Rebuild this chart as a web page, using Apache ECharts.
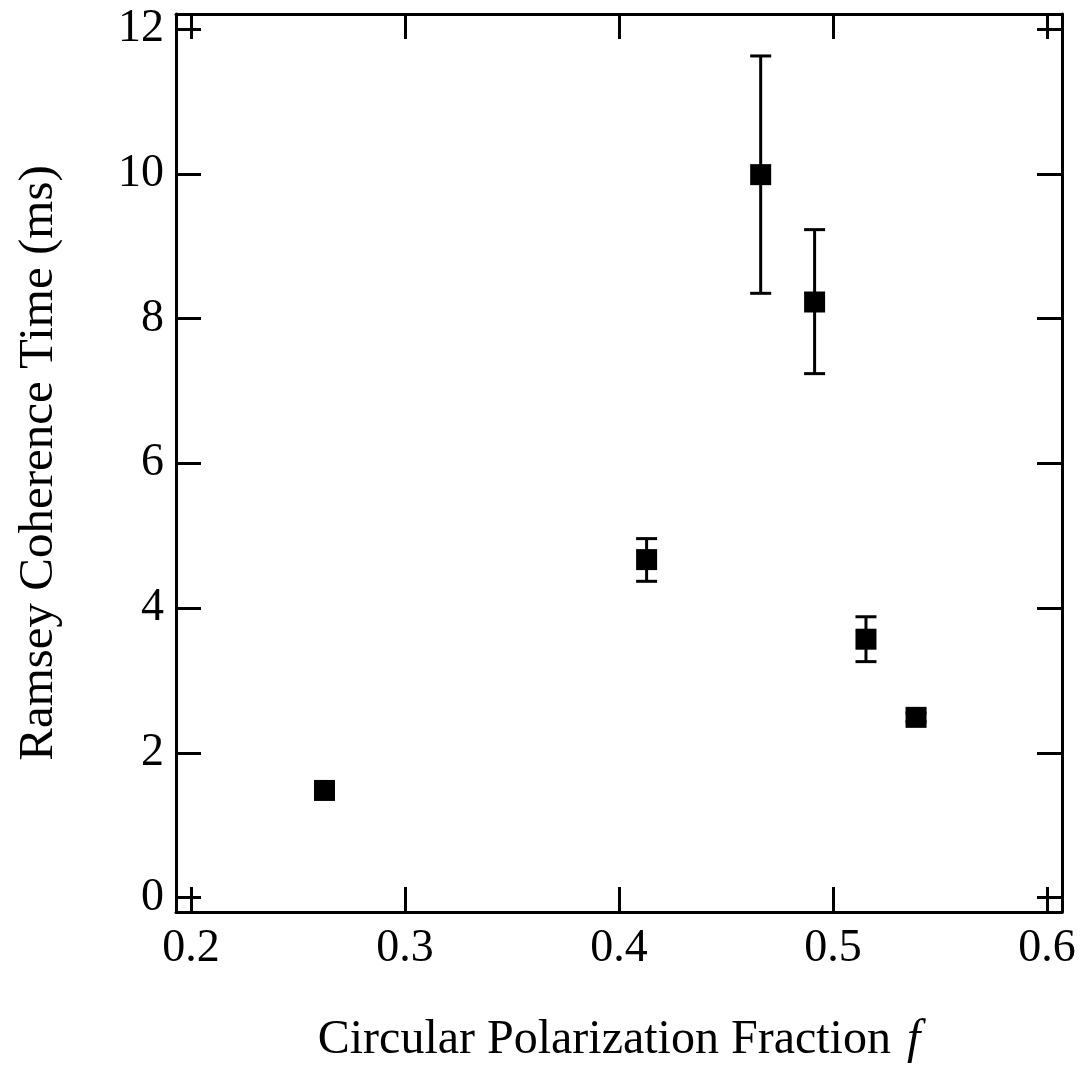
<!DOCTYPE html>
<html>
<head>
<meta charset="utf-8">
<script src="https://cdn.jsdelivr.net/npm/echarts@6/dist/echarts.min.js"></script>
<style>
	html, body { margin: 0; padding: 0; background: #fff; }
	#chart { width: 1083px; height: 1069px; }
</style>
</head>
<body>
<div id="chart"></div>
<script>
// values
var fraction = [0.2624, 0.4129, 0.4662, 0.4914, 0.5154, 0.5388];
var coherence = [1.48, 4.67, 9.99, 8.23, 3.57, 2.49];
var errLow = [1.42, 4.37, 8.35, 7.24, 3.26, 2.43];
var errHigh = [1.54, 4.96, 11.63, 9.23, 3.88, 2.55];
var xTicks = [0.2, 0.3, 0.4, 0.5, 0.6];
var yTicks = [0, 2, 4, 6, 8, 10, 12];

var font = 'Liberation Serif';

var points = [];
var bars = [];
for(var i=0; i<fraction.length; i++){
	points.push([fraction[i], coherence[i]]);
	bars.push([fraction[i], errLow[i], errHigh[i]]);
}

var chart = echarts.init(document.getElementById('chart'));

function makeX(pos, showLabels){
	return {
		type: 'value',
		position: pos,
		min: 0.193,
		max: 0.607,
		splitLine: { show: false },
		axisLine: { onZero: false, lineStyle: { color: '#000', width: 3 } },
		axisTick: { inside: true, length: 25, customValues: xTicks, lineStyle: { color: '#000', width: 3 } },
		axisLabel: {
			show: showLabels, customValues: xTicks, margin: 14,
			color: '#000', fontFamily: font, fontSize: 46,
			formatter: function(v){ return v.toFixed(1); }
		}
	};
}

function makeY(pos, showLabels){
	return {
		type: 'value',
		position: pos,
		min: -0.2,
		max: 12.21,
		splitLine: { show: false },
		axisLine: { onZero: false, lineStyle: { color: '#000', width: 3 } },
		axisTick: { inside: true, length: 25, customValues: yTicks, lineStyle: { color: '#000', width: 3 } },
		axisLabel: {
			show: showLabels, customValues: yTicks, margin: 12,
			color: '#000', fontFamily: font, fontSize: 46
		}
	};
}

var xBottom = makeX('bottom', true);
xBottom.name = 'Circular Polarization Fraction {i|f}';
xBottom.nameLocation = 'middle';
xBottom.nameGap = 104;
xBottom.nameTextStyle = {
	color: '#000', fontFamily: font, fontSize: 48,
	rich: { i: { fontFamily: font, fontSize: 48, fontStyle: 'italic', color: '#000', padding: [0, 0, 0, 4] } }
};

var yLeft = makeY('left', true);
yLeft.name = 'Ramsey Coherence Time (ms)';
yLeft.nameLocation = 'middle';
yLeft.nameGap = 112;
yLeft.nameTextStyle = { color: '#000', fontFamily: font, fontSize: 49 };

var options = {
	animation: false,
	backgroundColor: '#fff',
	grid: { left: 176, right: 21, top: 14, bottom: 155 },
	xAxis: [xBottom, makeX('top', false)],
	yAxis: [yLeft, makeY('right', false)],
	series: [
		{
			type: 'custom',
			xAxisIndex: 0,
			yAxisIndex: 0,
			data: bars,
			z: 2,
			renderItem: function(params, api){
				var top = api.coord([api.value(0), api.value(2)]);
				var bot = api.coord([api.value(0), api.value(1)]);
				var hw = 10.5;
				var st = { stroke: '#000', lineWidth: 3 };
				return {
					type: 'group',
					children: [
						{ type: 'line', shape: { x1: top[0], y1: top[1], x2: bot[0], y2: bot[1] }, style: st },
						{ type: 'line', shape: { x1: top[0]-hw, y1: top[1], x2: top[0]+hw, y2: top[1] }, style: st },
						{ type: 'line', shape: { x1: bot[0]-hw, y1: bot[1], x2: bot[0]+hw, y2: bot[1] }, style: st }
					]
				};
			}
		},
		{
			type: 'scatter',
			xAxisIndex: 0,
			yAxisIndex: 0,
			data: points,
			symbol: 'rect',
			symbolSize: 21,
			itemStyle: { color: '#000', opacity: 1 },
			z: 3
		}
	]
};

chart.setOption(options);
</script>
</body>
</html>
